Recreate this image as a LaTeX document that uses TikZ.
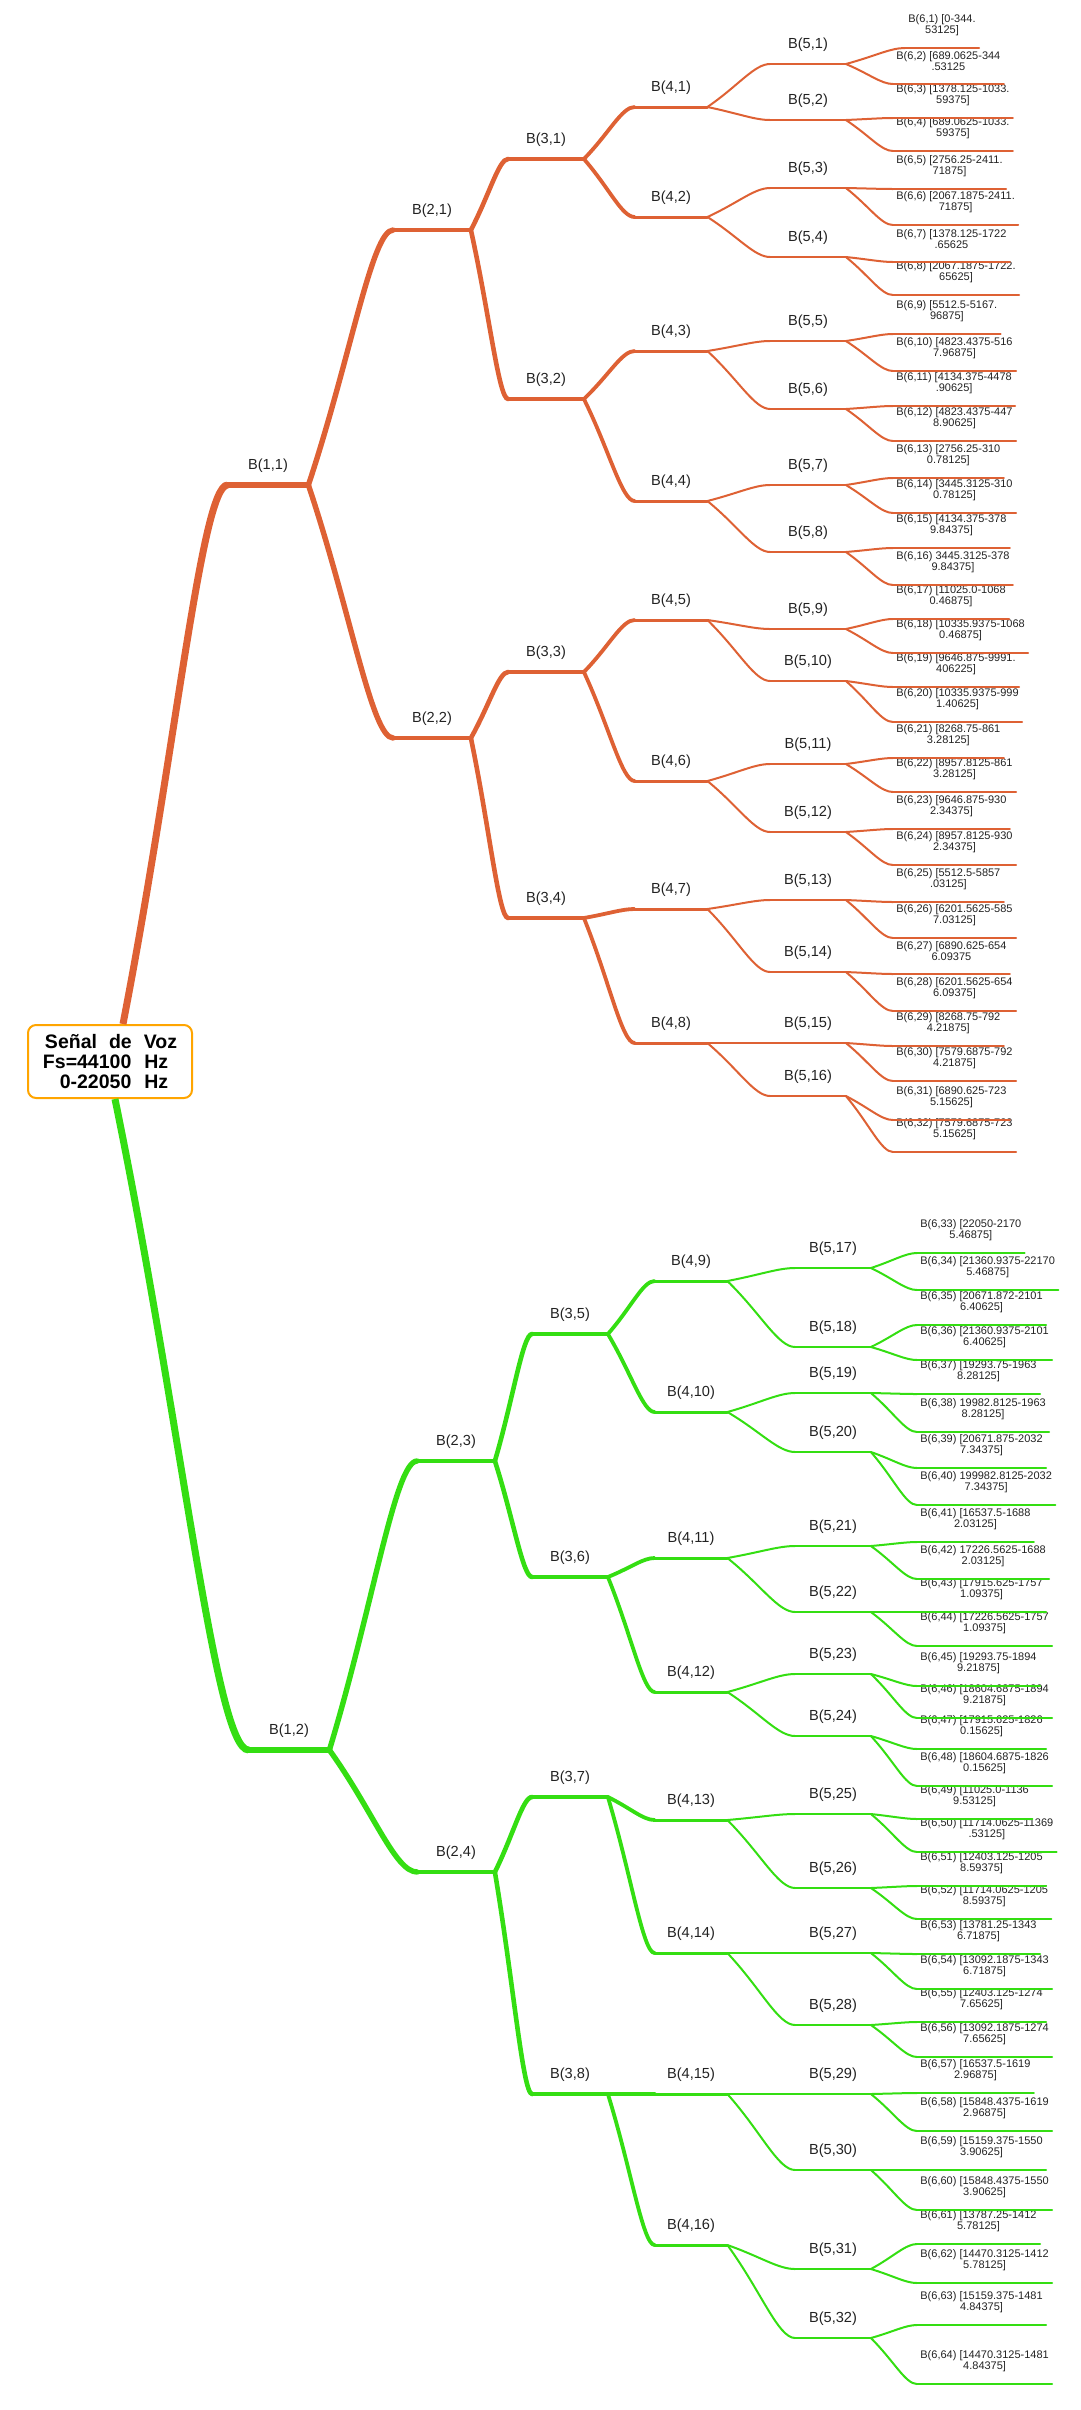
\documentclass[tikz,border=0pt]{standalone}
\usepackage{fontspec}
\setmainfont{Liberation Sans}
\usetikzlibrary{calc}
\definecolor{orng}{RGB}{222,97,52}
\definecolor{grn}{RGB}{52,222,18}
\definecolor{boxc}{RGB}{255,165,0}
\definecolor{txt}{RGB}{34,34,34}
\tikzset{
  lab/.style={inner sep=0pt, minimum width=37.5pt, minimum height=19pt, anchor=south, font=\fontsize{7.3pt}{8.8pt}\selectfont, text=txt},
  leaf/.style={inner xsep=1.5pt, inner ysep=0pt, minimum height=22.5pt, anchor=south west, align=center, font=\fontsize{5.5pt}{5.4pt}\selectfont, text=txt},
  rootbox/.style={draw=boxc, line width=1pt, rounded corners=4pt, fill=white, minimum width=82pt, minimum height=36.5pt, inner sep=0pt, align=left, font=\bfseries\fontsize{9.75pt}{10pt}\selectfont, text=black},
  w0/.style={line width=3.5pt},
  w1/.style={line width=2.7pt, line cap=round},
  w2/.style={line width=2.3pt, line cap=round},
  w3/.style={line width=1.9pt, line cap=round},
  w4/.style={line width=1.5pt, line cap=round},
  w5/.style={line width=1pt, line cap=round},
}
\newcommand\cnx[3]{\draw[#1] (#2) .. controls ($(#2)!0.5!(#3)$) and ($(#3)!0.25!(#3 -| #2)$) .. (#3);}
\newcommand\uln[2]{\draw[#1] (#2.south west) -- (#2.south east);}
\begin{document}
\begin{tikzpicture}[x=0.5pt,y=-0.5pt]
\useasboundingbox (0,0) rectangle (1081,2410);
% root
\node[rootbox] (root) at (110,1061.5) {\hspace*{1pt}Señal\hspace{6pt}de\hspace{6pt}Voz\\Fs=44100\hspace{6.5pt}Hz\\\hspace*{8.4pt}0-22050\hspace{6.5pt}Hz};
\coordinate (rN) at ([xshift=6.5pt]root.north);
\coordinate (rS) at ([xshift=2.5pt]root.south);
% level 1
\node[lab, minimum width=40pt] (b1n1) at (268,485) {B(1,1)};
\node[lab, minimum width=40pt] (b1n2) at (289,1750) {B(1,2)};
% level 2
\foreach \k/\y in {1/230,2/738} {\node[lab, minimum width=38.5pt] (b2n\k) at (432,\y) {B(2,\k)};}
\foreach \k/\y in {3/1461,4/1872} {\node[lab, minimum width=38.5pt] (b2n\k) at (456,\y) {B(2,\k)};}
% level 3
\foreach \k/\y in {1/159,2/399,3/672,4/918} {\node[lab] (b3n\k) at (546,\y) {B(3,\k)};}
\foreach \k/\y in {5/1334,6/1577,7/1797,8/2094} {\node[lab] (b3n\k) at (570,\y) {B(3,\k)};}
% level 4
\foreach \k/\y in {1/107,2/217,3/351,4/501,5/620,6/781,7/909,8/1043} {\node[lab, minimum width=36pt] (b4n\k) at (671,\y) {B(4,\k)};}
\foreach \k/\y in {9/1281,10/1412,11/1558,12/1692,13/1820,14/1953,15/2094,16/2245} {\node[lab, minimum width=36pt] (b4n\k) at (691,\y) {B(4,\k)};}
% level 5
\foreach \k/\y in {1/64,2/120,3/188,4/257,5/341,6/409,7/485,8/552,9/629,10/681,11/764,12/832,13/900,14/972,15/1043,16/1096} {\node[lab] (b5n\k) at (808,\y) {B(5,\k)};}
\foreach \k/\y in {17/1268,18/1347,19/1393,20/1452,21/1546,22/1612,23/1674,24/1736,25/1814,26/1888,27/1953,28/2025,29/2094,30/2170,31/2269,32/2338} {\node[lab] (b5n\k) at (833,\y) {B(5,\k)};}
% level 6 (orange)
\node[leaf] (b6n1) at (905,48) {B(6,1) [0-344.\\53125]};
\node[leaf] (b6n2) at (893,84) {B(6,2) [689.0625-344\\.53125};
\node[leaf] (b6n3) at (893,118) {B(6,3) [1378.125-1033.\\59375]};
\node[leaf] (b6n4) at (893,151) {B(6,4) [689.0625-1033.\\59375]};
\node[leaf] (b6n5) at (893,189) {B(6,5) [2756.25-2411.\\71875]};
\node[leaf] (b6n6) at (893,225) {B(6,6) [2067.1875-2411.\\71875]};
\node[leaf] (b6n7) at (893,262) {B(6,7) [1378.125-1722\\.65625};
\node[leaf] (b6n8) at (893,295) {B(6,8) [2067.1875-1722.\\65625]};
\node[leaf] (b6n9) at (893,334) {B(6,9) [5512.5-5167.\\96875]};
\node[leaf] (b6n10) at (893,371) {B(6,10) [4823.4375-516\\7.96875]};
\node[leaf] (b6n11) at (893,406) {B(6,11) [4134.375-4478\\.90625]};
\node[leaf] (b6n12) at (893,441) {B(6,12) [4823.4375-447\\8.90625]};
\node[leaf] (b6n13) at (893,478) {B(6,13) [2756.25-310\\0.78125]};
\node[leaf] (b6n14) at (893,513) {B(6,14) [3445.3125-310\\0.78125]};
\node[leaf] (b6n15) at (893,548) {B(6,15) [4134.375-378\\9.84375]};
\node[leaf] (b6n16) at (893,585) {B(6,16) 3445.3125-378\\9.84375]};
\node[leaf] (b6n17) at (893,619) {B(6,17) [11025.0-1068\\0.46875]};
\node[leaf] (b6n18) at (893,653) {B(6,18) [10335.9375-1068\\0.46875]};
\node[leaf] (b6n19) at (893,687) {B(6,19) [9646.875-9991.\\406225]};
\node[leaf] (b6n20) at (893,722) {B(6,20) [10335.9375-999\\1.40625]};
\node[leaf] (b6n21) at (893,758) {B(6,21) [8268.75-861\\3.28125]};
\node[leaf] (b6n22) at (893,792) {B(6,22) [8957.8125-861\\3.28125]};
\node[leaf] (b6n23) at (893,829) {B(6,23) [9646.875-930\\2.34375]};
\node[leaf] (b6n24) at (893,865) {B(6,24) [8957.8125-930\\2.34375]};
\node[leaf] (b6n25) at (893,902) {B(6,25) [5512.5-5857\\.03125]};
\node[leaf] (b6n26) at (893,938) {B(6,26) [6201.5625-585\\7.03125]};
\node[leaf] (b6n27) at (893,974) {B(6,27) [6890.625-654\\6.09375};
\node[leaf] (b6n28) at (893,1011) {B(6,28) [6201.5625-654\\6.09375]};
\node[leaf] (b6n29) at (893,1046) {B(6,29) [8268.75-792\\4.21875]};
\node[leaf] (b6n30) at (893,1081) {B(6,30) [7579.6875-792\\4.21875]};
\node[leaf] (b6n31) at (893,1120) {B(6,31) [6890.625-723\\5.15625]};
\node[leaf] (b6n32) at (893,1152) {B(6,32) [7579.6875-723\\5.15625]};
% level 6 (green)
\node[leaf] (b6n33) at (917,1253) {B(6,33) [22050-2170\\5.46875]};
\node[leaf] (b6n34) at (917,1290) {B(6,34) [21360.9375-22170\\5.46875]};
\node[leaf] (b6n35) at (917,1325) {B(6,35) [20671.872-2101\\6.40625]};
\node[leaf] (b6n36) at (917,1360) {B(6,36) [21360.9375-2101\\6.40625]};
\node[leaf] (b6n37) at (917,1394) {B(6,37) [19293.75-1963\\8.28125]};
\node[leaf] (b6n38) at (917,1432) {B(6,38) 19982.8125-1963\\8.28125]};
\node[leaf] (b6n39) at (917,1468) {B(6,39) [20671.875-2032\\7.34375]};
\node[leaf] (b6n40) at (917,1505) {B(6,40) 199982.8125-2032\\7.34375]};
\node[leaf] (b6n41) at (917,1542) {B(6,41) [16537.5-1688\\2.03125]};
\node[leaf] (b6n42) at (917,1579) {B(6,42) 17226.5625-1688\\2.03125]};
\node[leaf] (b6n43) at (917,1612) {B(6,43) [17915.625-1757\\1.09375]};
\node[leaf] (b6n44) at (917,1646) {B(6,44) [17226.5625-1757\\1.09375]};
\node[leaf] (b6n45) at (917,1686) {B(6,45) [19293.75-1894\\9.21875]};
\node[leaf] (b6n46) at (917,1718) {B(6,46) [18604.6875-1894\\9.21875]};
\node[leaf] (b6n47) at (917,1749) {B(6,47) [17915.625-1826\\0.15625]};
\node[leaf] (b6n48) at (917,1786) {B(6,48) [18604.6875-1826\\0.15625]};
\node[leaf] (b6n49) at (917,1819) {B(6,49) [11025.0-1136\\9.53125]};
\node[leaf] (b6n50) at (917,1852) {B(6,50) [11714.0625-11369\\.53125]};
\node[leaf] (b6n51) at (917,1886) {B(6,51) [12403.125-1205\\8.59375]};
\node[leaf] (b6n52) at (917,1919) {B(6,52) [11714.0625-1205\\8.59375]};
\node[leaf] (b6n53) at (917,1954) {B(6,53) [13781.25-1343\\6.71875]};
\node[leaf] (b6n54) at (917,1989) {B(6,54) [13092.1875-1343\\6.71875]};
\node[leaf] (b6n55) at (917,2022) {B(6,55) [12403.125-1274\\7.65625]};
\node[leaf] (b6n56) at (917,2057) {B(6,56) [13092.1875-1274\\7.65625]};
\node[leaf] (b6n57) at (917,2093) {B(6,57) [16537.5-1619\\2.96875]};
\node[leaf] (b6n58) at (917,2131) {B(6,58) [15848.4375-1619\\2.96875]};
\node[leaf] (b6n59) at (917,2170) {B(6,59) [15159.375-1550\\3.90625]};
\node[leaf] (b6n60) at (917,2210) {B(6,60) [15848.4375-1550\\3.90625]};
\node[leaf] (b6n61) at (917,2244) {B(6,61) [13787.25-1412\\5.78125]};
\node[leaf] (b6n62) at (917,2283) {B(6,62) [14470.3125-1412\\5.78125]};
\node[leaf] (b6n63) at (917,2325) {B(6,63) [15159.375-1481\\4.84375]};
\node[leaf] (b6n64) at (917,2384) {B(6,64) [14470.3125-1481\\4.84375]};
% ---------- orange branch ----------
\begin{scope}[color=orng]
\cnx{w0}{rN}{b1n1.south west}
\uln{w1}{b1n1}
\cnx{w1}{b1n1.south east}{b2n1.south west}
\cnx{w1}{b1n1.south east}{b2n2.south west}
\foreach \k in {1,2} {\uln{w2}{b2n\k}
  \pgfmathtruncatemacro\ca{2*\k-1}\pgfmathtruncatemacro\cb{2*\k}
  \cnx{w2}{b2n\k.south east}{b3n\ca.south west}
  \cnx{w2}{b2n\k.south east}{b3n\cb.south west}}
\foreach \k in {1,...,4} {\uln{w3}{b3n\k}
  \pgfmathtruncatemacro\ca{2*\k-1}\pgfmathtruncatemacro\cb{2*\k}
  \cnx{w3}{b3n\k.south east}{b4n\ca.south west}
  \cnx{w3}{b3n\k.south east}{b4n\cb.south west}}
\foreach \k in {1,...,8} {\uln{w4}{b4n\k}
  \pgfmathtruncatemacro\ca{2*\k-1}\pgfmathtruncatemacro\cb{2*\k}
  \cnx{w5}{b4n\k.south east}{b5n\ca.south west}
  \cnx{w5}{b4n\k.south east}{b5n\cb.south west}}
\foreach \k in {1,...,16} {\uln{w5}{b5n\k}
  \pgfmathtruncatemacro\ca{2*\k-1}\pgfmathtruncatemacro\cb{2*\k}
  \cnx{w5}{b5n\k.south east}{b6n\ca.south west}
  \cnx{w5}{b5n\k.south east}{b6n\cb.south west}}
\foreach \k in {1,...,32} {\uln{w5}{b6n\k}}
\end{scope}
% ---------- green branch ----------
\begin{scope}[color=grn]
\cnx{w0}{rS}{b1n2.south west}
\uln{w1}{b1n2}
\cnx{w1}{b1n2.south east}{b2n3.south west}
\cnx{w1}{b1n2.south east}{b2n4.south west}
\foreach \k in {3,4} {\uln{w2}{b2n\k}
  \pgfmathtruncatemacro\ca{2*\k-1}\pgfmathtruncatemacro\cb{2*\k}
  \cnx{w2}{b2n\k.south east}{b3n\ca.south west}
  \cnx{w2}{b2n\k.south east}{b3n\cb.south west}}
\foreach \k in {5,...,8} {\uln{w3}{b3n\k}
  \pgfmathtruncatemacro\ca{2*\k-1}\pgfmathtruncatemacro\cb{2*\k}
  \cnx{w3}{b3n\k.south east}{b4n\ca.south west}
  \cnx{w3}{b3n\k.south east}{b4n\cb.south west}}
\foreach \k in {9,...,16} {\uln{w4}{b4n\k}
  \pgfmathtruncatemacro\ca{2*\k-1}\pgfmathtruncatemacro\cb{2*\k}
  \cnx{w5}{b4n\k.south east}{b5n\ca.south west}
  \cnx{w5}{b4n\k.south east}{b5n\cb.south west}}
\foreach \k in {17,...,32} {\uln{w5}{b5n\k}
  \pgfmathtruncatemacro\ca{2*\k-1}\pgfmathtruncatemacro\cb{2*\k}
  \cnx{w5}{b5n\k.south east}{b6n\ca.south west}
  \cnx{w5}{b5n\k.south east}{b6n\cb.south west}}
\foreach \k in {33,...,64} {\uln{w5}{b6n\k}}
\end{scope}
\end{tikzpicture}
\end{document}
